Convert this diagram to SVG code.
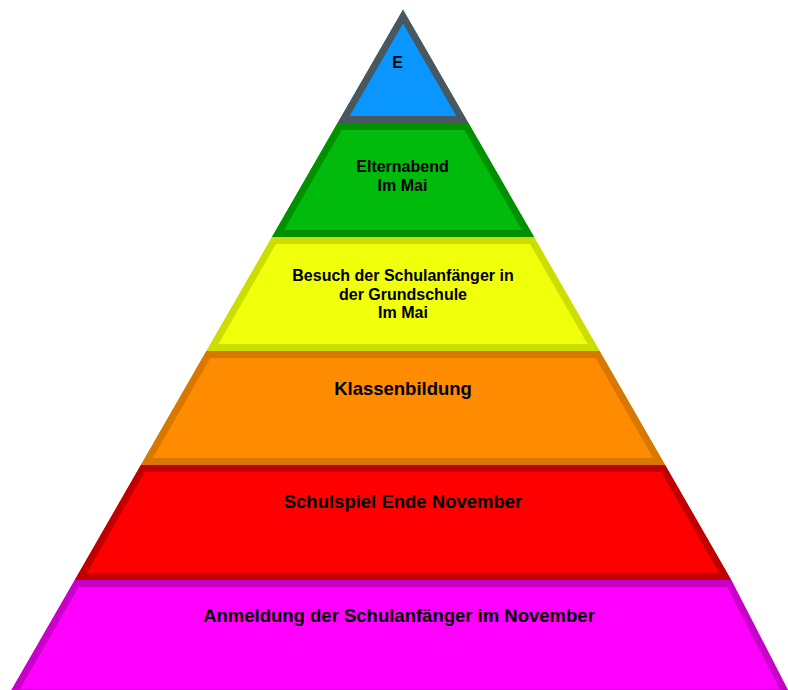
<svg xmlns="http://www.w3.org/2000/svg" xmlns:xlink="http://www.w3.org/1999/xlink" width="788" height="690" viewBox="0 0 788 690">
  <style>
    .lbl { font-family: "Liberation Sans", Arial, sans-serif; font-weight: bold; fill: #000; text-anchor: middle; }
    .s16 { font-size: 16px; }
    .s18 { font-size: 18.5px; }
    .layer { stroke-width: 14; stroke-linejoin: miter; }
  </style>
  <defs>
    <polygon id="p1" points="403,9.5 468.5,123 337.5,123"/>
    <polygon id="p2" points="337.5,123 468.5,123 534.1,237 271.9,237"/>
    <polygon id="p3" points="271.9,237 534.1,237 599.7,351 206.3,351"/>
    <polygon id="p4" points="206.3,351 599.7,351 665.2,465 140.8,465"/>
    <polygon id="p5" points="140.8,465 665.2,465 731.3,580 74.7,580"/>
    <polygon id="p6" points="74.7,580 731.3,580 791.1,696 7.9,696"/>
    <clipPath id="c1"><use xlink:href="#p1"/></clipPath>
    <clipPath id="c2"><use xlink:href="#p2"/></clipPath>
    <clipPath id="c3"><use xlink:href="#p3"/></clipPath>
    <clipPath id="c4"><use xlink:href="#p4"/></clipPath>
    <clipPath id="c5"><use xlink:href="#p5"/></clipPath>
    <clipPath id="c6"><use xlink:href="#p6"/></clipPath>
  </defs>
  <rect width="788" height="690" fill="#ffffff"/>
  <g id="layer-anmeldung">
    <use xlink:href="#p6" class="layer" fill="#ff00ff" stroke="#c800c8" clip-path="url(#c6)"/>
    <text class="lbl s18" x="399" y="622">Anmeldung der Schulanfänger im November</text>
  </g>
  <g id="layer-schulspiel">
    <use xlink:href="#p5" class="layer" fill="#ff0000" stroke="#c00000" clip-path="url(#c5)"/>
    <text class="lbl s18" x="403" y="508">Schulspiel Ende November</text>
  </g>
  <g id="layer-klassenbildung">
    <use xlink:href="#p4" class="layer" fill="#ff8c00" stroke="#d87800" clip-path="url(#c4)"/>
    <text class="lbl s18" x="403" y="395">Klassenbildung</text>
  </g>
  <g id="layer-besuch">
    <use xlink:href="#p3" class="layer" fill="#f0ff0a" stroke="#ccdd00" clip-path="url(#c3)"/>
    <text class="lbl s16" x="403" y="281">Besuch der Schulanfänger in</text>
    <text class="lbl s16" x="403" y="299.5">der Grundschule</text>
    <text class="lbl s16" x="403" y="318">Im Mai</text>
  </g>
  <g id="layer-elternabend">
    <use xlink:href="#p2" class="layer" fill="#00bb0c" stroke="#009000" clip-path="url(#c2)"/>
    <text class="lbl s16" x="402.5" y="172">Elternabend</text>
    <text class="lbl s16" x="402.5" y="191">Im Mai</text>
  </g>
  <g id="layer-e">
    <use xlink:href="#p1" class="layer" fill="#0a96ff" stroke="#48585e" clip-path="url(#c1)"/>
    <text class="lbl s16" x="397.5" y="68">E</text>
  </g>
  <g id="connectors"/>
</svg>
